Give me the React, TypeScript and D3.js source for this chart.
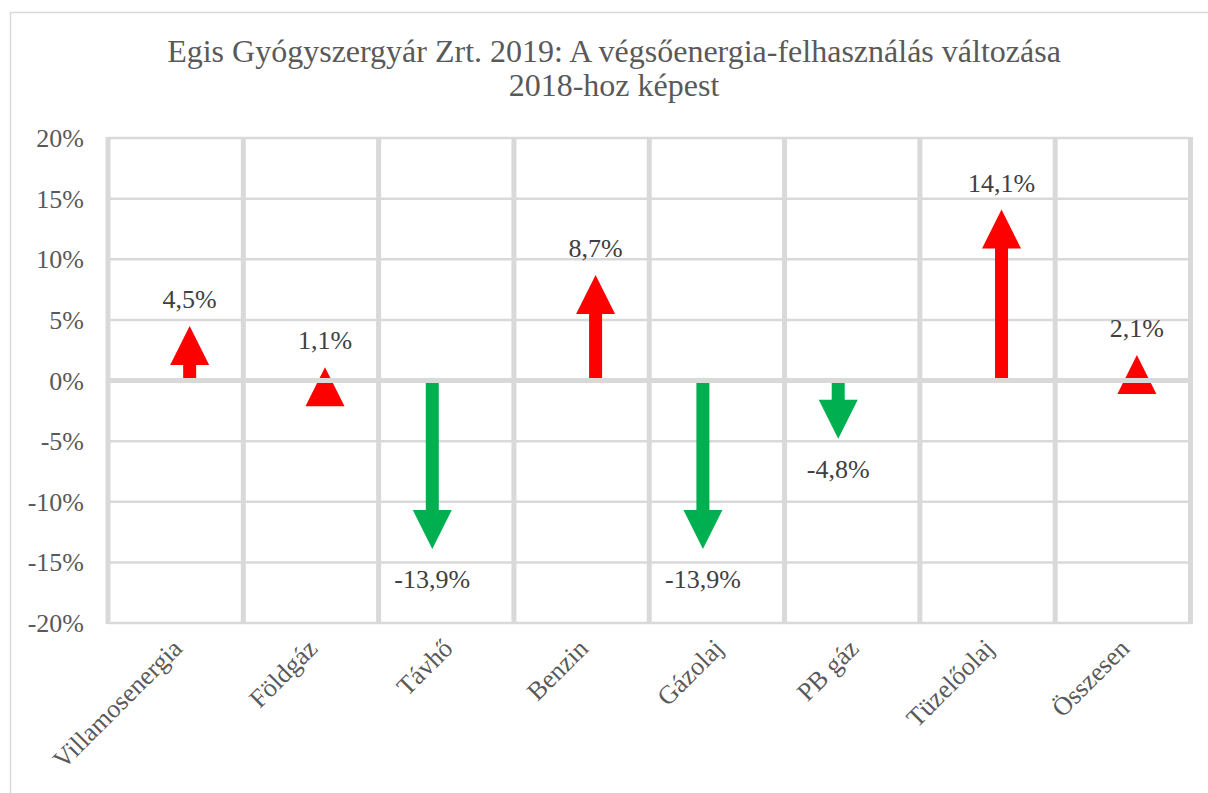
import { useEffect } from "react";
import * as d3 from "d3";

const categories = ["Villamosenergia", "Földgáz", "Távhő", "Benzin", "Gázolaj", "PB gáz", "Tüzelőolaj", "Összesen"];
const changes = [4.5, 1.1, -13.9, 8.7, -13.9, -4.8, 14.1, 2.1];
const yTicks = [-20, -15, -10, -5, 0, 5, 10, 15, 20];
const titleLines = ["Egis Gyógyszergyár Zrt. 2019: A végsőenergia-felhasználás változása", "2018-hoz képest"];

const width = 1208;
const height = 793;
const plotLeft = 108;
const plotRight = 1190.5;
const plotTop = 138;
const plotBottom = 623;

const grid = "#d9d9d9";
const font = "'Liberation Serif', 'DejaVu Serif', serif";

const headW = 39;
const headH = 39;
const shaftW = 13;

const fmt = (v: number) => v.toFixed(1).replace(".", ",") + "%";

const App = () => {
  useEffect(() => {
    document.body.style.margin = "0";
  }, []);

  const xScale = d3.scaleBand().domain(categories).range([plotLeft, plotRight]);
  const yScale = d3.scaleLinear().domain([-20, 20]).range([plotBottom, plotTop]);
  const y0 = yScale(0);

  // arrow path: tip at value, fixed head size, shaft back to the zero line
  const arrowPath = (cx: number, v: number) => {
    const tip = yScale(v);
    const dir = v >= 0 ? 1 : -1; // 1 = pointing up
    const base = tip + dir * headH;
    const p = d3.path();
    p.moveTo(cx, tip);
    p.lineTo(cx + headW / 2, base);
    if ((dir === 1 && base < y0) || (dir === -1 && base > y0)) {
      p.lineTo(cx + shaftW / 2, base);
      p.lineTo(cx + shaftW / 2, y0);
      p.lineTo(cx - shaftW / 2, y0);
      p.lineTo(cx - shaftW / 2, base);
    }
    p.lineTo(cx - headW / 2, base);
    p.closePath();
    return p.toString();
  };

  const bandEdges = categories.map((c) => xScale(c) as number).concat([plotRight]);
  const txt = { fontFamily: font };

  return (
    <svg width={width} height={height} style={{ display: "block", position: "absolute", left: 0, top: 0 }}>
      <rect x={0} y={0} width={width} height={height} fill="#fff" />
      <rect x={10.5} y={12.5} width={1220} height={800} fill="none" stroke={grid} strokeWidth={1.5} />

      {/* title */}
      <text x={614} textAnchor="middle" fill="#595959" fontSize={32} style={txt}>
        {titleLines.map((t, i) => (
          <tspan key={i} x={614} y={62 + i * 34}>
            {t}
          </tspan>
        ))}
      </text>

      {/* horizontal gridlines */}
      <g>
        {yTicks.filter((t) => t !== 0).map((t) => (
          <line key={t} x1={plotLeft} x2={plotRight} y1={yScale(t)} y2={yScale(t)} stroke={grid} strokeWidth={2.5} />
        ))}
      </g>
      {/* vertical gridlines */}
      <g>
        {bandEdges.map((x, i) => (
          <line key={i} x1={x} x2={x} y1={plotTop - 1} y2={plotBottom + 1} stroke={grid} strokeWidth={5} />
        ))}
      </g>

      {/* arrows */}
      <g>
        {categories.map((c, i) => {
          const v = changes[i];
          const cx = (xScale(c) as number) + xScale.bandwidth() / 2 + (v >= 0 ? 14 : -14);
          return <path key={c} d={arrowPath(cx, v)} fill={v >= 0 ? "#ff0000" : "#00b050"} />;
        })}
      </g>

      {/* zero line on top */}
      <line x1={plotLeft} x2={plotRight} y1={y0} y2={y0} stroke={grid} strokeWidth={5} />

      {/* value labels */}
      <g>
        {categories.map((c, i) => {
          const v = changes[i];
          const cx = (xScale(c) as number) + xScale.bandwidth() / 2 + (v >= 0 ? 14 : -14);
          const ly = v >= 0 ? yScale(v) - 27 : yScale(v) + 30;
          return (
            <text key={c} x={cx} y={ly} dy="0.35em" textAnchor="middle" fill="#404040" fontSize={26} style={txt}>
              {fmt(v)}
            </text>
          );
        })}
      </g>

      {/* y tick labels */}
      <g>
        {yTicks.map((t) => (
          <text key={t} x={84} y={yScale(t)} dy="0.35em" textAnchor="end" fill="#595959" fontSize={26} style={txt}>
            {t + "%"}
          </text>
        ))}
      </g>

      {/* x category labels */}
      <g>
        {categories.map((c) => {
          const cx = (xScale(c) as number) + xScale.bandwidth() / 2;
          return (
            <text
              key={c}
              transform={`translate(${cx + 8},${650}) rotate(-45)`}
              textAnchor="end"
              fill="#595959"
              fontSize={26}
              style={txt}
            >
              {c}
            </text>
          );
        })}
      </g>
    </svg>
  );
};

export default App;
